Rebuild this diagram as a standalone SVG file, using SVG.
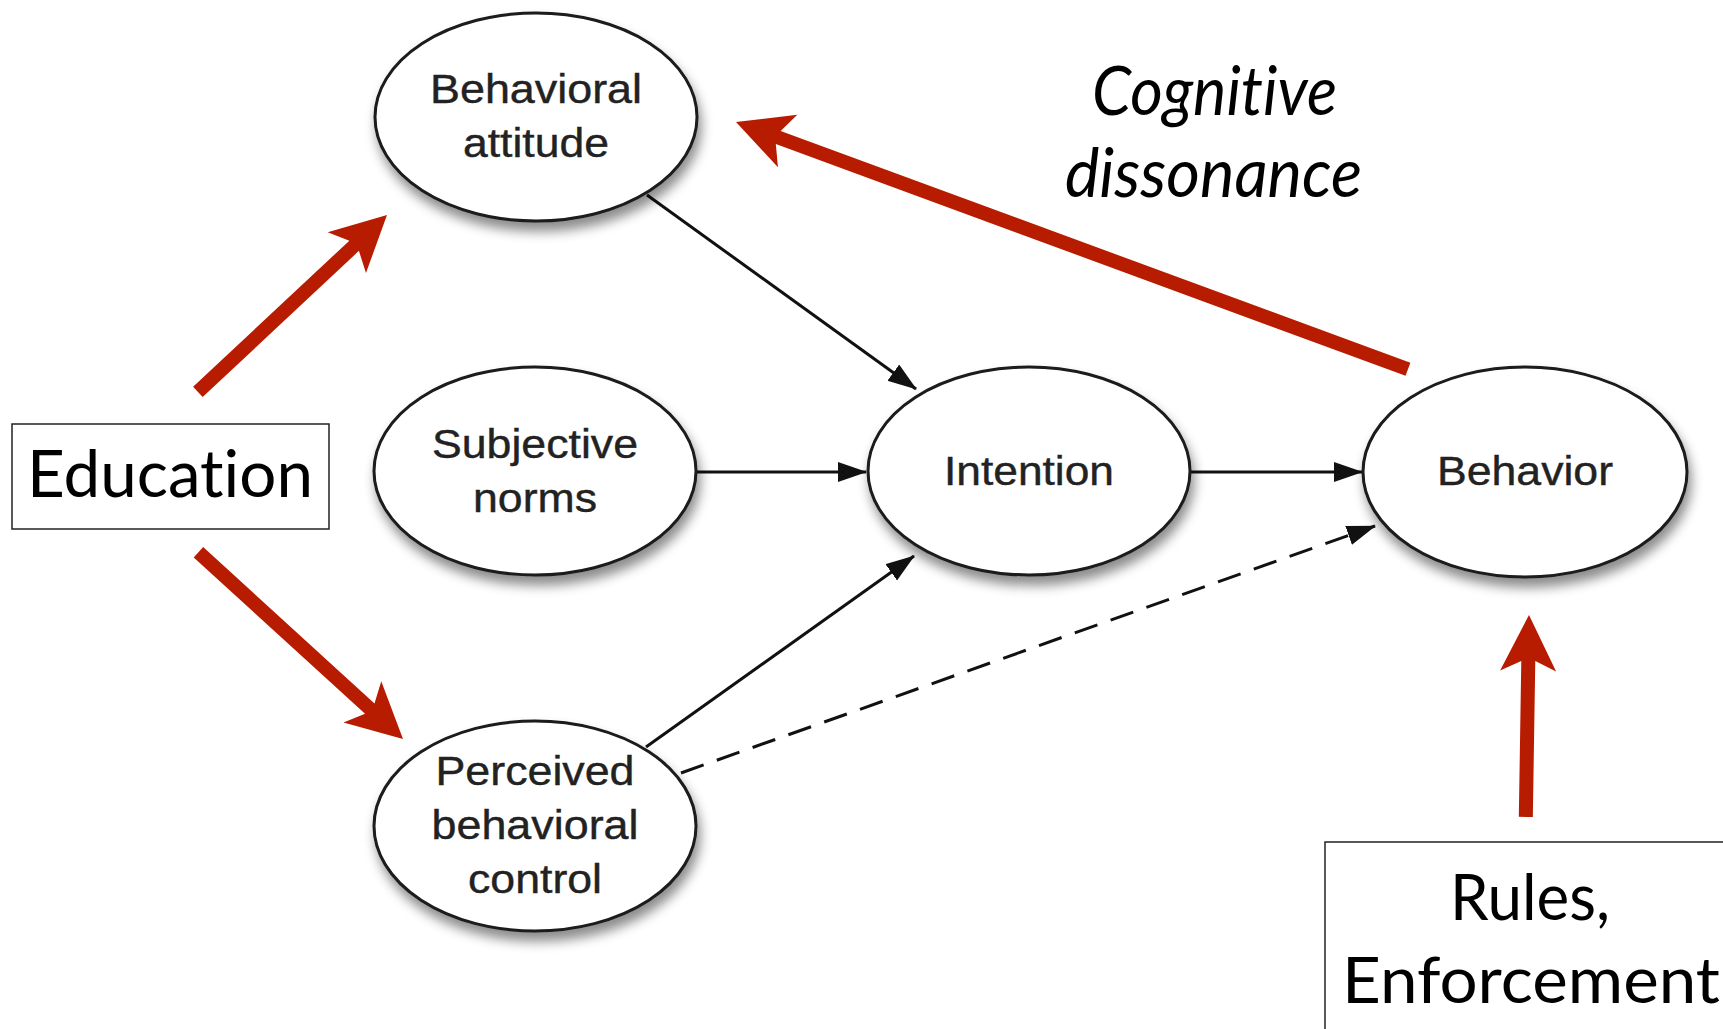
<svg xmlns="http://www.w3.org/2000/svg" width="1723" height="1029" viewBox="0 0 1723 1029">
  <style>
    .node ellipse { fill: #ffffff; stroke: #1a1a1a; stroke-width: 3; filter: url(#shadow); }
    .node text { font-family: "Liberation Sans", Arial, sans-serif; font-size: 40px; fill: #222222; stroke: #222222; stroke-width: 0.4; text-anchor: middle; }
    .conn { stroke: #111111; stroke-width: 3; fill: none; marker-end: url(#tri); }
    .dash { stroke-dasharray: 24 14; }
    .red { fill: #b81c00; }
    .box rect { fill: #ffffff; stroke: #222222; stroke-width: 1.5; }
    .gill { font-family: Lato, "Open Sans", sans-serif; fill: #000000; font-variant-ligatures: none; font-feature-settings: "liga" 0, "clig" 0; }
  </style>
  <defs>
    <filter id="shadow" x="-20%" y="-20%" width="150%" height="160%">
      <feDropShadow dx="3" dy="9" stdDeviation="6" flood-color="#000000" flood-opacity="0.45"/>
    </filter>
    <marker id="tri" markerUnits="userSpaceOnUse" markerWidth="32" markerHeight="22" refX="28" refY="10" orient="auto">
      <path d="M0,0 L29,10 L0,20 Z" fill="#111111"/>
    </marker>
  </defs>
  <rect width="1723" height="1029" fill="#ffffff"/>

  <g id="connectors">
    <line class="conn" x1="647" y1="195" x2="916" y2="389"/>
    <line class="conn" x1="696" y1="472" x2="866" y2="472"/>
    <line class="conn" x1="646" y1="747" x2="914" y2="556"/>
    <line class="conn" x1="1190" y1="472" x2="1362" y2="472"/>
    <line class="conn dash" x1="681" y1="773" x2="1375" y2="526"/>
  </g>

  <g id="node-attitude" class="node">
    <ellipse cx="536" cy="117" rx="161" ry="104"/>
    <text x="536" y="103" textLength="212" lengthAdjust="spacingAndGlyphs">Behavioral</text>
    <text x="536" y="157" textLength="146" lengthAdjust="spacingAndGlyphs">attitude</text>
  </g>
  <g id="node-norms" class="node">
    <ellipse cx="535" cy="471" rx="161" ry="104"/>
    <text x="535" y="458" textLength="206" lengthAdjust="spacingAndGlyphs">Subjective</text>
    <text x="535" y="512" textLength="124" lengthAdjust="spacingAndGlyphs">norms</text>
  </g>
  <g id="node-control" class="node">
    <ellipse cx="535" cy="826" rx="161" ry="105"/>
    <text x="535" y="785" textLength="199" lengthAdjust="spacingAndGlyphs">Perceived</text>
    <text x="535" y="839" textLength="207" lengthAdjust="spacingAndGlyphs">behavioral</text>
    <text x="535" y="893" textLength="134" lengthAdjust="spacingAndGlyphs">control</text>
  </g>
  <g id="node-intention" class="node">
    <ellipse cx="1029" cy="471" rx="161" ry="104"/>
    <text x="1029" y="485" textLength="170" lengthAdjust="spacingAndGlyphs">Intention</text>
  </g>
  <g id="node-behavior" class="node">
    <ellipse cx="1525" cy="472" rx="162" ry="105"/>
    <text x="1525" y="485" textLength="176" lengthAdjust="spacingAndGlyphs">Behavior</text>
  </g>

  <g id="red-arrows">
    <path class="red" transform="translate(387,215) rotate(-43.1)" d="M0,0 L-55,-28 L-45,-7 L-259,-7 L-259,7 L-45,7 L-55,28 Z"/>
    <path class="red" transform="translate(403,739) rotate(42.4)" d="M0,0 L-55,-28 L-45,-7 L-277,-7 L-277,7 L-45,7 L-55,28 Z"/>
    <path class="red" transform="translate(1529,615) rotate(-89.1)" d="M0,0 L-56,-28 L-46,-7 L-202,-7 L-202,7 L-46,7 L-56,28 Z"/>
    <path class="red" transform="translate(736,122) rotate(-159.8)" d="M0,0 L-55,-28 L-45,-7 L-716,-7 L-716,7 L-45,7 L-55,28 Z"/>
  </g>

  <g id="node-education" class="box">
    <rect x="12" y="424" width="317" height="105"/>
    <text class="gill" x="27" y="497" font-size="65" textLength="286" lengthAdjust="spacingAndGlyphs">Education</text>
  </g>

  <g id="node-rules" class="box">
    <rect x="1325" y="842" width="420" height="220"/>
    <text class="gill" x="1450" y="920" font-size="64" textLength="160" lengthAdjust="spacingAndGlyphs">Rules,</text>
    <text class="gill" x="1342" y="1003" font-size="64" textLength="378" lengthAdjust="spacingAndGlyphs">Enforcement</text>
  </g>

  <g id="label-dissonance">
    <text class="gill" x="1092" y="115" font-size="68" font-style="italic" textLength="245" lengthAdjust="spacingAndGlyphs">Cognitive</text>
    <text class="gill" x="1065" y="197" font-size="68" font-style="italic" textLength="297" lengthAdjust="spacingAndGlyphs">dissonance</text>
  </g>
</svg>
